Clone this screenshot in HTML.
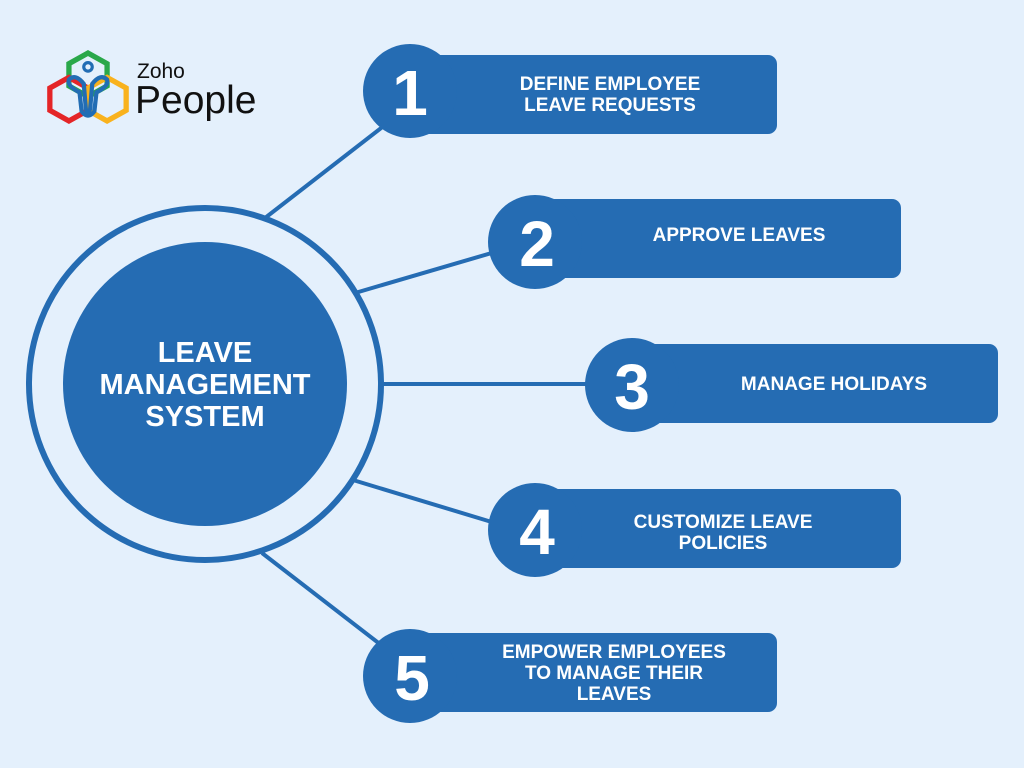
<!DOCTYPE html>
<html><head><meta charset="utf-8">
<style>
html,body{margin:0;padding:0;background:#e4f0fc;}
svg{display:block;}
text{font-family:"Liberation Sans",sans-serif;font-weight:bold;}
</style></head>
<body>
<svg width="1024" height="768" viewBox="0 0 1024 768">
<rect width="1024" height="768" fill="#e4f0fc"/>

<g>
  <g transform="translate(88,87) scale(1.06) translate(-88,-87)">
  <polygon points="88,55 106,65 106,86 88,96 70,86 70,65" fill="none" stroke="#2aa84a" stroke-width="5"/>
  <polygon points="70,78 88,88 88,109 70,119 52,109 52,88" fill="none" stroke="#e42527" stroke-width="5"/>
  <polygon points="106,78 124,88 124,109 106,119 88,109 88,88" fill="none" stroke="#f9b21d" stroke-width="5"/>
  <circle cx="88" cy="68" r="4" fill="none" stroke="#226db4" stroke-width="3"/>
  <path d="M70,80 Q76,74 84,84 L86,108 Q88,113 90,108 L92,84 Q100,74 106,80 Q108,86 96,92 L94,110 Q88,118 82,110 L80,92 Q68,86 70,80 Z" fill="none" stroke="#226db4" stroke-width="4"/>
  </g>
  <text x="137" y="78" font-size="21" fill="#111" style="font-weight:normal">Zoho</text>
  <text x="135" y="113" font-size="39" fill="#111" style="font-weight:normal">People</text>
</g>

<g stroke="#256cb3" stroke-width="4">
  <line x1="265" y1="218" x2="385" y2="125"/>
  <line x1="355" y1="293" x2="495" y2="252"/>
  <line x1="383" y1="384" x2="590" y2="384"/>
  <line x1="353" y1="480" x2="495" y2="523"/>
  <line x1="262" y1="553" x2="385" y2="648"/>
</g>

<g>
  <circle cx="205" cy="384" r="176" fill="none" stroke="#256cb3" stroke-width="6"/>
  <circle cx="205" cy="384" r="142" fill="#256cb3"/>
  <g fill="#fff" font-size="29" text-anchor="middle">
    <text x="205" y="362">LEAVE</text>
    <text x="205" y="394">MANAGEMENT</text>
    <text x="205" y="426">SYSTEM</text>
  </g>
</g>

<g fill="#256cb3">
  <g>
    <rect x="410" y="55" width="367" height="79" rx="9"/>
    <circle cx="410" cy="91" r="47"/>
    <text x="410" y="115" font-size="64" fill="#fff" text-anchor="middle">1</text>
    <text x="610" y="90" font-size="19" fill="#fff" text-anchor="middle">DEFINE EMPLOYEE</text>
    <text x="610" y="111" font-size="19" fill="#fff" text-anchor="middle">LEAVE REQUESTS</text>
  </g>
  <g>
    <rect x="535" y="199" width="366" height="79" rx="9"/>
    <circle cx="535" cy="242" r="47"/>
    <text x="537" y="266" font-size="64" fill="#fff" text-anchor="middle">2</text>
    <text x="739" y="241" font-size="19" fill="#fff" text-anchor="middle">APPROVE LEAVES</text>
  </g>
  <g>
    <rect x="632" y="344" width="366" height="79" rx="9"/>
    <circle cx="632" cy="385" r="47"/>
    <text x="632" y="409" font-size="64" fill="#fff" text-anchor="middle">3</text>
    <text x="834" y="390" font-size="19" fill="#fff" text-anchor="middle">MANAGE HOLIDAYS</text>
  </g>
  <g>
    <rect x="535" y="489" width="366" height="79" rx="9"/>
    <circle cx="535" cy="530" r="47"/>
    <text x="537" y="554" font-size="64" fill="#fff" text-anchor="middle">4</text>
    <text x="723" y="528" font-size="19" fill="#fff" text-anchor="middle">CUSTOMIZE LEAVE</text>
    <text x="723" y="549" font-size="19" fill="#fff" text-anchor="middle">POLICIES</text>
  </g>
  <g>
    <rect x="410" y="633" width="367" height="79" rx="9"/>
    <circle cx="410" cy="676" r="47"/>
    <text x="412" y="700" font-size="64" fill="#fff" text-anchor="middle">5</text>
    <text x="614" y="658" font-size="19" fill="#fff" text-anchor="middle">EMPOWER EMPLOYEES</text>
    <text x="614" y="679" font-size="19" fill="#fff" text-anchor="middle">TO MANAGE THEIR</text>
    <text x="614" y="700" font-size="19" fill="#fff" text-anchor="middle">LEAVES</text>
  </g>
</g>
</svg>
</body></html>
